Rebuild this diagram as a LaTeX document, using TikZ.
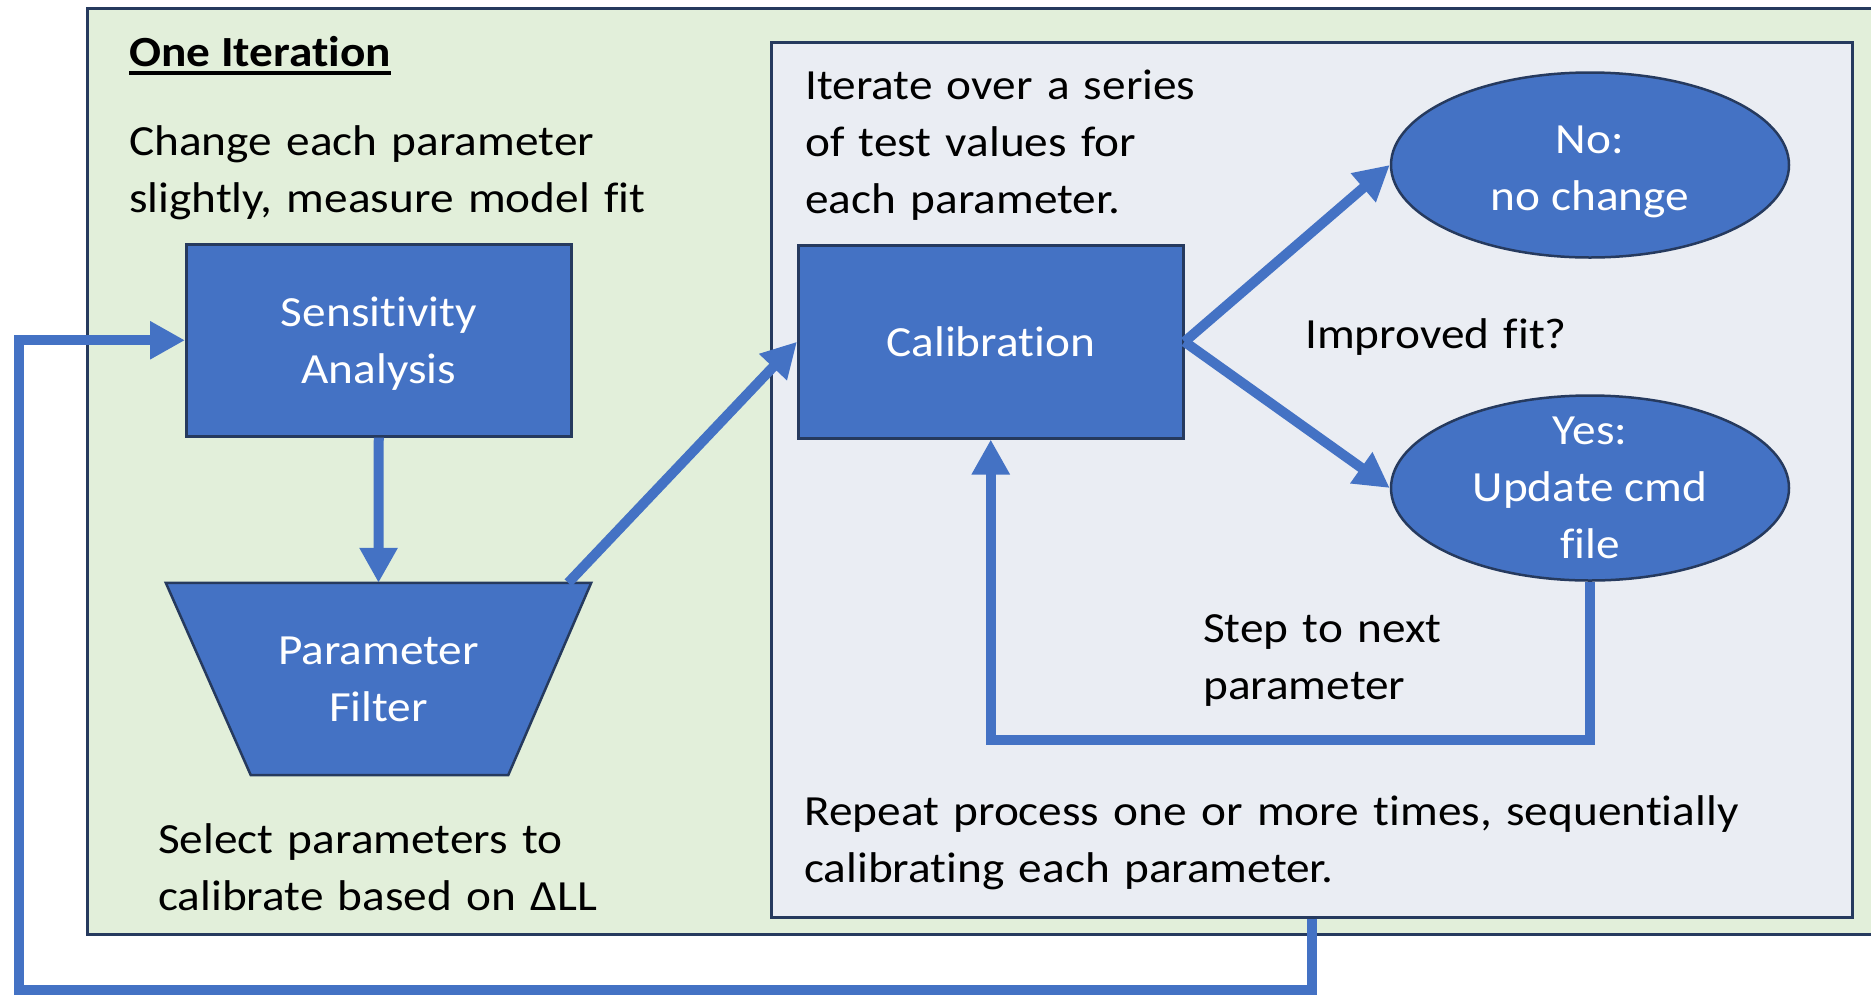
\documentclass[tikz,border=0pt]{standalone}
\usepackage{fontspec}
\setmainfont{Carlito}[FakeStretch=1.1, Ligatures=NoCommon]
\usetikzlibrary{arrows.meta,shapes.geometric}
\definecolor{blueA}{HTML}{4472C4}
\definecolor{greenbg}{HTML}{E2EFDA}
\definecolor{graybg}{HTML}{EAEDF3}
\definecolor{navy}{HTML}{263A5E}
\begin{document}
\begin{tikzpicture}[x=1pt,y=-1pt,
  txt/.style={font=\fontsize{43}{57}\selectfont, inner sep=0pt, anchor=base west, text width=1100pt, align=left},
  shapebox/.style={draw=navy, line width=2.5pt, fill=blueA, text=white, font=\fontsize{43}{57}\selectfont, align=center, inner sep=0pt},
  panel/.style={draw=navy, line width=2.5pt, inner sep=0pt, anchor=north west},
  arr/.style={draw=blueA, line width=10pt, -{Triangle[length=35pt,width=36pt]}}
]
\useasboundingbox (0,0) rectangle (1871,997);
% panels
\node[panel, fill=greenbg, minimum width=1800pt, minimum height=926pt] (outer) at (86,7) {};
\node[panel, fill=graybg, minimum width=1081pt, minimum height=875pt] (inner) at (770,41) {};
% shapes
\node[shapebox, minimum width=385pt, minimum height=192pt, anchor=north west] (sens) at (185,243) {\rule{0pt}{36pt}Sensitivity\\Analysis};
\node[shapebox, minimum width=385pt, minimum height=193pt, anchor=north west] (cal) at (797,244) {Calibration};
\node[shapebox, ellipse, minimum width=398pt, minimum height=185pt, inner ysep=-6pt] (no) at (1590,165) {\rule{0pt}{41pt}No:\\no change};
\node[shapebox, ellipse, minimum width=398pt, minimum height=185pt, inner ysep=-6pt] (yes) at (1590,488) {Yes:\\Update cmd\\file};
\node[minimum width=425pt, minimum height=192pt, inner sep=0pt] (pf) at (378.5,679) {};
\draw[draw=navy, line width=2.5pt, fill=blueA] (pf.north west) -- (pf.north east) -- ([xshift=-83pt]pf.south east) -- ([xshift=85pt]pf.south west) -- cycle;
\node[text=white, font=\fontsize{43}{57}\selectfont, align=center, inner sep=0pt] (pflabel) at (pf.center) {Parameter\\Filter};
% texts
\node[font=\fontsize{43}{57}\selectfont\bfseries, inner sep=0pt, anchor=base west] (title) at (129,66) {One Iteration};
\draw[line width=3.5pt] ([yshift=-7pt]title.base west) -- ([yshift=-7pt]title.base east);
\node[txt] (t1) at (129,155) {Change each parameter\\slightly, measure model fit};
\node[txt] (t2) at (158,853) {Select parameters to\\calibrate based on ΔLL};
\node[txt] (t3) at (805,99) {Iterate over a series\\of test values for\\each parameter.};
\node[txt] (t4) at (1305,348) {Improved fit?};
\node[txt] (t5) at (1203,642) {Step to next\\parameter};
\node[txt] (t6) at (804,825) {Repeat process one or more times, sequentially\\calibrating each parameter.};
% connectors
\coordinate (fbcorner) at (19,990);
\draw[arr] (sens.south) -- (pf.north);
\draw[arr] ([xshift=-23pt]pf.north east) -- (cal.west);
\draw[arr] (cal.east) -- (no.west);
\draw[arr] (cal.east) -- (yes.west);
\draw[arr] (yes.south) -- ++(0,158) -| (cal.south);
\draw[arr] (inner.south) |- (fbcorner) |- (sens.west);
\end{tikzpicture}
\end{document}
